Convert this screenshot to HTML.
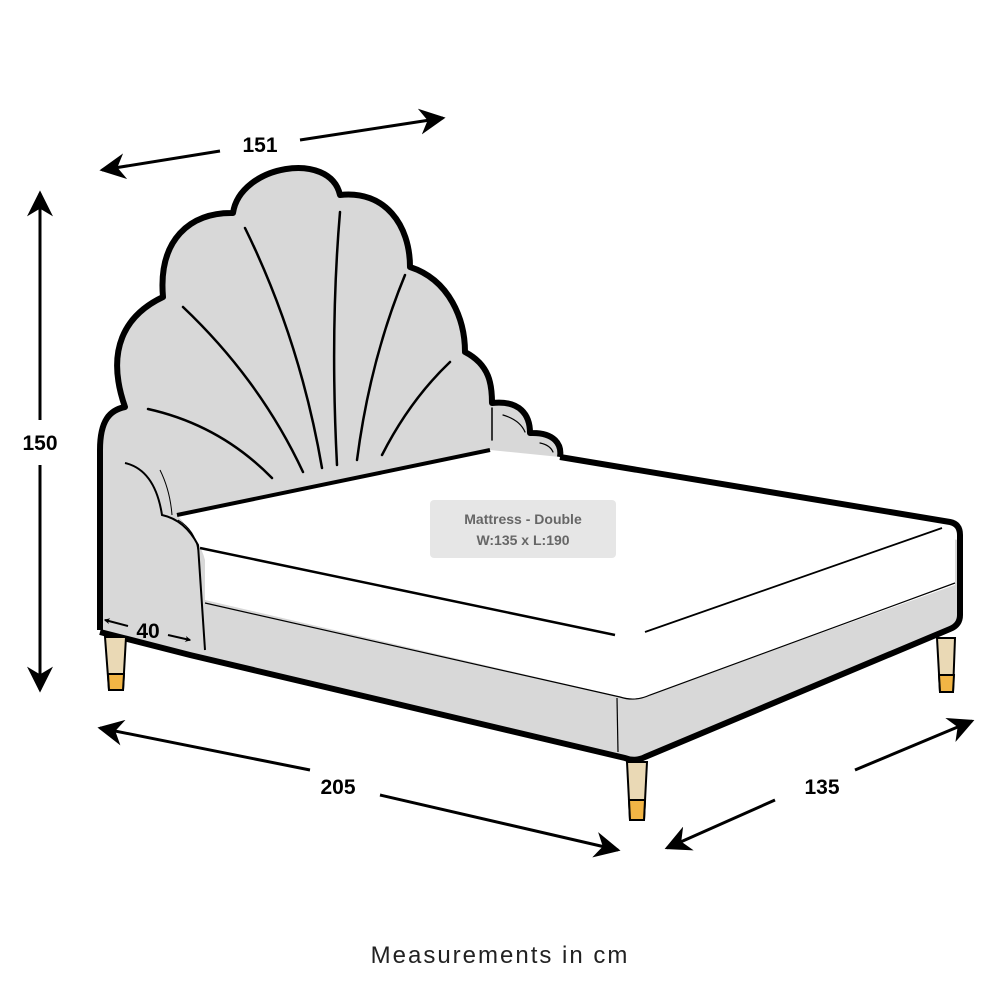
<!DOCTYPE html>
<html><head><style>html,body{margin:0;padding:0;background:#fff;width:1000px;height:1000px;overflow:hidden}</style></head>
<body>
<svg width="1000" height="1000" viewBox="0 0 1000 1000" xmlns="http://www.w3.org/2000/svg">
<defs>
<marker id="ah" viewBox="0 0 10 10" refX="8" refY="5" markerWidth="6" markerHeight="6" orient="auto-start-reverse" markerUnits="userSpaceOnUse"><path d="M0,0 L10,5 L0,10 L3,5 Z" fill="#000"/></marker>
<marker id="big" viewBox="0 0 10 10" refX="9" refY="5" markerWidth="26" markerHeight="26" orient="auto-start-reverse" markerUnits="userSpaceOnUse"><path d="M0,0 L10,5 L0,10 L3,5 Z" fill="#000"/></marker>
</defs>
<path d="M190,600 L560,470 L958,540 L958,628 L635,760 L190,655 Z" fill="#d8d8d8"/>
<path d="M177,515 L490,450 L560,457 L955,522 L955,585 L635,700 L205,600 Z" fill="#fff"/>
<path id="hb" d="M100,630 L100,450 C100,420 110,410 125,407 C105,350 125,315 163,297 C158,240 190,212 233,213 C240,165 330,150 340,195 C385,190 410,225 410,267 C450,280 465,320 465,352 C490,365 492,385 492,403 C520,400 530,415 530,433 C555,432 562,445 560,457 L490,450 L177,515 Q200,540 205,560 L205,650 L190,656 Z" fill="#d8d8d8"/>
<path d="M100,630 L100,450 C100,420 110,410 125,407 C105,350 125,315 163,297 C158,240 190,212 233,213 C240,165 330,150 340,195 C385,190 410,225 410,267 C450,280 465,320 465,352 C490,365 492,385 492,403 C520,400 530,415 530,433 C555,432 562,445 560,457" fill="none" stroke="#000" stroke-width="6" stroke-linejoin="round"/>
<g fill="none" stroke="#000" stroke-width="2.5" stroke-linecap="round">
<path d="M148,409 Q220,425 272,478"/>
<path d="M183,307 Q260,380 303,472"/>
<path d="M245,228 Q300,340 322,468"/>
<path d="M340,212 Q330,330 337,465"/>
<path d="M405,275 Q370,360 357,460"/>
<path d="M450,362 Q410,400 382,455"/>
<path d="M492,408 L492,440" stroke-width="1.5"/>
<path d="M503,415 Q520,420 525,432" stroke-width="1.2"/>
<path d="M540,443 Q550,445 553,452" stroke-width="1.2"/>
</g>
<path d="M125,463 Q155,470 162,515 Q185,520 198,545 L205,650" fill="none" stroke="#000" stroke-width="2"/>
<path d="M160,470 Q170,490 172,515" fill="none" stroke="#000" stroke-width="1"/>
<path d="M178,520 Q195,530 198,550" fill="none" stroke="#000" stroke-width="1"/>
<path d="M177,515 L490,450" stroke="#000" stroke-width="4"/>
<path d="M560,457 L950,522 Q960,524 960,535 L960,615 Q960,625 950,629 L645,757 Q635,762 625,758 L190,655 L100,632" fill="none" stroke="#000" stroke-width="6" stroke-linejoin="round"/>
<path d="M200,548 L615,635" stroke="#000" stroke-width="2.5"/>
<path d="M645,632 L942,528" stroke="#000" stroke-width="1.8"/>
<path d="M205,603 L620,697 Q635,702 650,695 L955,583" fill="none" stroke="#000" stroke-width="1.2"/>
<path d="M617,698 L618,752" stroke="#000" stroke-width="1.2"/>
<g stroke="#000" stroke-width="2">
<path d="M105,637 L126,637 L123,690 L109,690 Z" fill="#ead9b5"/>
<path d="M108,674 L124,674 L123,690 L109,690 Z" fill="#f2b545"/>
<path d="M627,762 L647,762 L644,820 L630,820 Z" fill="#ead9b5"/>
<path d="M629,800 L645,800 L644,820 L630,820 Z" fill="#f2b545"/>
<path d="M937,638 L955,638 L953,692 L940,692 Z" fill="#ead9b5"/>
<path d="M939,675 L954,675 L953,692 L940,692 Z" fill="#f2b545"/>
</g>
<rect x="430" y="500" width="186" height="58" rx="4" fill="#e6e6e6"/>
<text x="523" y="524" font-family="Liberation Sans, sans-serif" font-size="14" font-weight="bold" fill="#666" text-anchor="middle">Mattress - Double</text>
<text x="523" y="545" font-family="Liberation Sans, sans-serif" font-size="14" font-weight="bold" fill="#666" text-anchor="middle">W:135 x L:190</text>
<g stroke="#000" stroke-width="3" fill="none">
<path d="M220,151 L102,170" marker-end="url(#big)"/>
<path d="M300,140 L443,118" marker-end="url(#big)"/>
<path d="M40,420 L40,193" marker-end="url(#big)"/>
<path d="M40,465 L40,690" marker-end="url(#big)"/>
<path d="M310,770 L100,728" marker-end="url(#big)"/>
<path d="M380,795 L618,850" marker-end="url(#big)"/>
<path d="M775,800 L667,848" marker-end="url(#big)"/>
<path d="M855,770 L972,721" marker-end="url(#big)"/>
<path d="M128,626 L105,620" stroke-width="2" marker-end="url(#ah)"/>
<path d="M168,635 L190,640" stroke-width="2" marker-end="url(#ah)"/>
</g>
<g font-family="Liberation Sans, sans-serif" font-weight="bold" font-size="21" fill="#000" text-anchor="middle">
<text x="260" y="152">151</text>
<text x="40" y="450">150</text>
<text x="338" y="794">205</text>
<text x="822" y="794">135</text>
<text x="148" y="638">40</text>
</g>
<text x="500" y="963" font-family="Liberation Sans, sans-serif" font-size="24" letter-spacing="2" fill="#222" text-anchor="middle">Measurements in cm</text>
</svg>
</body></html>
